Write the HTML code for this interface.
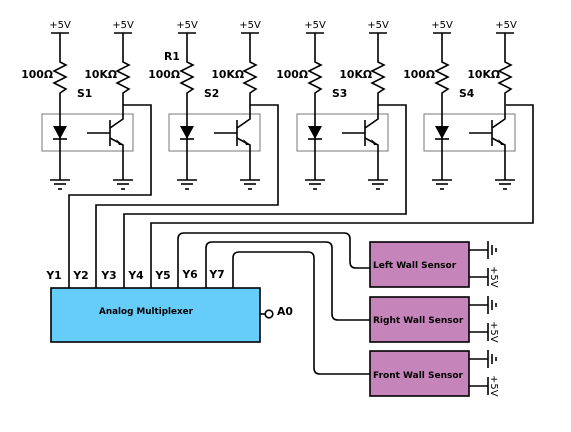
<!DOCTYPE html>
<html><head><meta charset="utf-8"><style>
html,body{margin:0;padding:0;background:#fff;}
svg{display:block;}
text{font-family:"DejaVu Sans","Liberation Sans",sans-serif;fill:#000;}
.b{font-weight:bold;font-size:10.8px;}
.n{font-size:10px;}
</style></head><body>
<svg width="571" height="432" viewBox="0 0 571 432" xmlns="http://www.w3.org/2000/svg">
<defs>
<g id="sen" fill="none" stroke="#000" stroke-width="1.6">
  <rect x="-18" y="114" width="91" height="37" stroke="#777" stroke-width="1"/>
  <line x1="-9" y1="33" x2="9" y2="33"/>
  <line x1="54" y1="33" x2="72" y2="33"/>
  <polyline points="0,33 0,62 6,65 -6,71 6,77 -6,83 6,89 0,93 0,180"/>
  <polyline points="63,33 63,62 69,65 57,71 69,77 57,83 69,89 63,93 63,119 50,128"/>
  <polygon points="-7,126 7,126 0,139" fill="#000" stroke="none"/>
  <line x1="-7" y1="139" x2="7" y2="139"/>
  <line x1="50" y1="120" x2="50" y2="146"/>
  <line x1="27" y1="133" x2="50" y2="133"/>
  <polyline points="50,138 63,145 63,180"/>
  <polygon points="63,145 56,139 59,145" fill="#000" stroke="none"/>
  <line x1="-10" y1="180" x2="10" y2="180"/>
  <line x1="-6" y1="184" x2="6" y2="184"/>
  <line x1="-2" y1="189" x2="2" y2="189"/>
  <line x1="53" y1="180" x2="73" y2="180"/>
  <line x1="57" y1="184" x2="69" y2="184"/>
  <line x1="61" y1="189" x2="65" y2="189"/>
</g>
<g id="pw" fill="none" stroke="#000" stroke-width="1.6">
  <line x1="469" y1="250" x2="488" y2="250"/>
  <line x1="488" y1="241" x2="488" y2="259"/>
  <line x1="492" y1="245" x2="492" y2="255"/>
  <line x1="496" y1="248" x2="496" y2="252"/>
  <line x1="469" y1="277" x2="488" y2="277"/>
  <line x1="488" y1="268" x2="488" y2="286"/>
</g>
</defs>
<use href="#sen" x="60"/>
<use href="#sen" x="187"/>
<use href="#sen" x="315"/>
<use href="#sen" x="442"/>

<g fill="none" stroke="#000" stroke-width="1.6">
  <polyline points="123,105 151,105 151,195 69,195 69,288"/>
  <polyline points="250,105 278,105 278,205 96,205 96,288"/>
  <polyline points="378,105 406,105 406,214 124,214 124,288"/>
  <polyline points="506,105 533,105 533,223 151,223 151,288"/>
  <path d="M178,288 V239 Q178,233 184,233 H344 Q350,233 350,239 V262 Q350,268 356,268 H370"/>
  <path d="M206,288 V248 Q206,242 212,242 H326 Q332,242 332,248 V314 Q332,320 338,320 H370"/>
  <path d="M233,288 V258 Q233,252 239,252 H308 Q314,252 314,258 V368 Q314,374 320,374 H370"/>
  <line x1="260" y1="314" x2="265" y2="314"/>
  <circle cx="269" cy="314" r="3.8" fill="#fff"/>
</g>
<rect x="51" y="288" width="209" height="54" fill="#66ccf9" stroke="#000" stroke-width="1.6"/>
<rect x="370" y="242" width="99" height="45" fill="#c584ba" stroke="#000" stroke-width="1.6"/>
<rect x="370" y="297" width="99" height="45" fill="#c584ba" stroke="#000" stroke-width="1.6"/>
<rect x="370" y="351" width="99" height="45" fill="#c584ba" stroke="#000" stroke-width="1.6"/>
<use href="#pw"/>
<use href="#pw" y="55"/>
<use href="#pw" y="109"/>

<g class="n" text-anchor="middle">
  <text x="60" y="28">+5V</text><text x="123" y="28">+5V</text>
  <text x="187" y="28">+5V</text><text x="250" y="28">+5V</text>
  <text x="315" y="28">+5V</text><text x="378" y="28">+5V</text>
  <text x="442" y="28">+5V</text><text x="506" y="28">+5V</text>
</g>
<g class="b" text-anchor="end">
  <text x="53" y="78">100Ω</text><text x="117" y="78">10KΩ</text>
  <text x="180" y="78">100Ω</text><text x="244" y="78">10KΩ</text>
  <text x="308" y="78">100Ω</text><text x="372" y="78">10KΩ</text>
  <text x="435" y="78">100Ω</text><text x="500" y="78">10KΩ</text>
</g>
<g class="b">
  <text x="77" y="97">S1</text><text x="204" y="97">S2</text>
  <text x="332" y="97">S3</text><text x="459" y="97">S4</text>
  <text x="164" y="60">R1</text>
</g>
<g class="b" text-anchor="middle">
  <text x="54" y="279">Y1</text><text x="81" y="279">Y2</text>
  <text x="109" y="279">Y3</text><text x="136" y="279">Y4</text>
  <text x="163" y="279">Y5</text><text x="190" y="278">Y6</text>
  <text x="217" y="278">Y7</text>
</g>
<text class="b" x="146" y="314" text-anchor="middle" style="font-size:8.8px">Analog Multiplexer</text>
<text class="b" x="277" y="315">A0</text>
<g class="b" style="font-size:9px">
  <text x="373" y="268">Left Wall Sensor</text>
  <text x="373" y="323">Right Wall Sensor</text>
  <text x="373" y="378">Front Wall Sensor</text>
</g>
<g class="n">
  <text transform="translate(491,266) rotate(90)">+5V</text>
  <text transform="translate(491,321) rotate(90)">+5V</text>
  <text transform="translate(491,375) rotate(90)">+5V</text>
</g>
</svg>
</body></html>
